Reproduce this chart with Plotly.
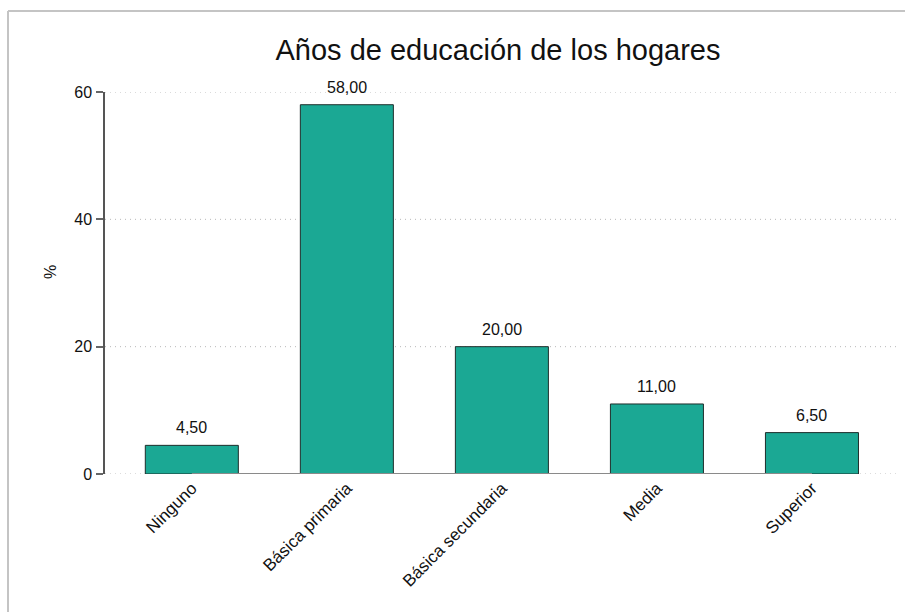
import plotly.graph_objects as go

# Household education levels (% of households)
categories = ["Ninguno", "Básica primaria", "Básica secundaria", "Media", "Superior"]
values = [4.5, 58.0, 20.0, 11.0, 6.5]
y_ticks = [0, 20, 40, 60]

title_text = "Años de educación de los hogares"
y_title = "%"

FONT = "Liberation Sans, Arial, Helvetica, sans-serif"
BAR_COLOR = "#1ba894"

# Page geometry (pixels)
W, H = 905, 612
L, R, T, B = 105, 7, 92, 138
plot_w = W - L - R
plot_h = H - T - B


def px_x(p):
    return (p - L) / plot_w


def px_y(q):
    return (H - B - q) / plot_h


fig = go.Figure()

fig.add_trace(go.Bar(
    x=categories,
    y=values,
    width=0.6,
    marker=dict(color=BAR_COLOR, line=dict(color="#1e2e2b", width=1)),
    hoverinfo="x+y",
))

# Category baseline running between the first and last category
fig.add_trace(go.Scatter(
    x=[categories[0], categories[-1]],
    y=[0, 0],
    mode="lines",
    line=dict(color="#8a8a8a", width=2),
    hoverinfo="skip",
))

# Value labels above each bar
annotations = []
for c, v in zip(categories, values):
    annotations.append(dict(
        x=c, y=v, xref="x", yref="y",
        text=f"{v:.2f}".replace(".", ","),
        showarrow=False, yanchor="bottom", yshift=7,
        font=dict(family=FONT, size=16, color="#111111"),
    ))

annotations.append(dict(
    x=px_x(50), y=px_y(272), xref="paper", yref="paper",
    text=y_title, textangle=-90, showarrow=False,
    xanchor="center", yanchor="middle",
    font=dict(family=FONT, size=16, color="#111111"),
))

# Dotted horizontal grid lines at every y tick (including the edges)
shapes = [
    dict(type="line", xref="paper", yref="y", layer="below",
         x0=0, x1=1, y0=t, y1=t,
         line=dict(color="#b8b8b8", width=1, dash="1px,4px"))
    for t in y_ticks
]

# Frame around the figure
shapes += [
    dict(type="line", xref="paper", yref="paper",
         x0=px_x(8), x1=px_x(8), y0=px_y(11), y1=px_y(H + 5),
         line=dict(color="#c4c4c4", width=2)),
    dict(type="line", xref="paper", yref="paper",
         x0=px_x(8), x1=px_x(W + 5), y0=px_y(11), y1=px_y(11),
         line=dict(color="#c4c4c4", width=2)),
]

fig.update_layout(
    width=W, height=H,
    margin=dict(l=L, r=R, t=T, b=B, pad=0),
    paper_bgcolor="white",
    plot_bgcolor="white",
    showlegend=False,
    font=dict(family=FONT, size=16, color="#111111"),
    title=dict(
        text=title_text,
        x=498 / W, xref="container", xanchor="center",
        y=1 - 50 / H, yref="container", yanchor="middle",
        font=dict(family=FONT, size=29, color="#111111"),
    ),
    annotations=annotations,
    shapes=shapes,
    xaxis=dict(
        range=[-0.56, 4.555],
        showgrid=False, zeroline=False, showline=False,
        ticks="", tickangle=-45,
        tickfont=dict(family=FONT, size=17, color="#111111"),
    ),
    yaxis=dict(
        range=[0, 60],
        tickvals=y_ticks,
        showgrid=False,
        zeroline=False,
        showline=True, linecolor="#555555", linewidth=1.5,
        ticks="outside", ticklen=7, tickcolor="#666666", tickwidth=1.5,
        ticklabelstandoff=1,
        tickfont=dict(family=FONT, size=16, color="#111111"),
    ),
)

fig.write_html("out.html")
